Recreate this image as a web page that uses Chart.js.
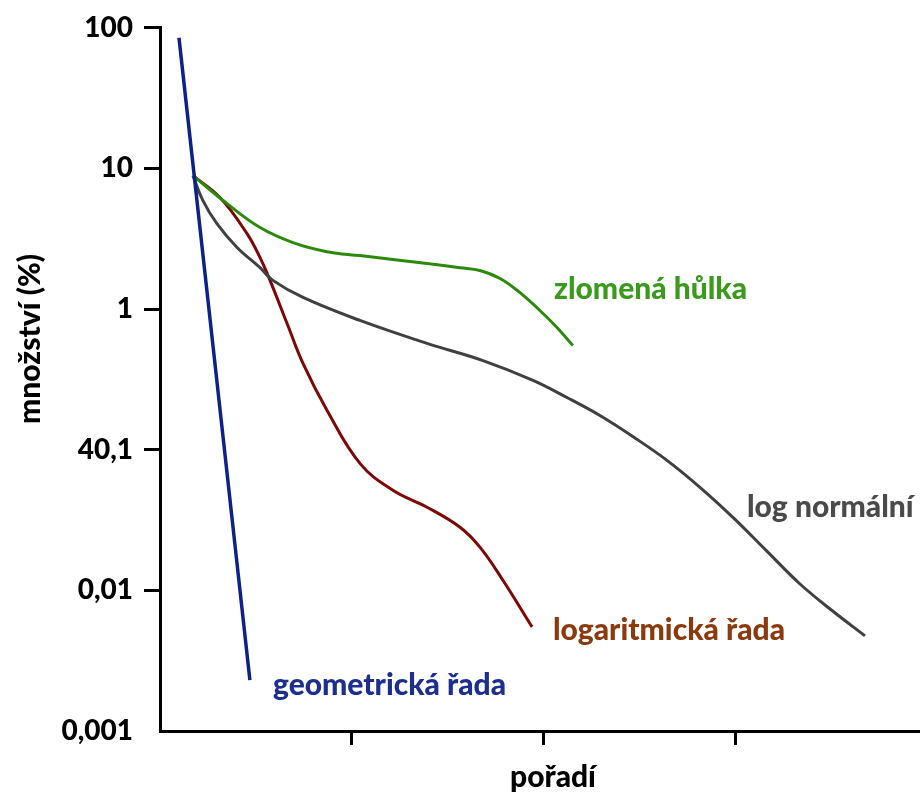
<!DOCTYPE html>
<html>
<head>
<meta charset="utf-8">
<script src="https://cdn.jsdelivr.net/npm/chart.js@4/dist/chart.umd.min.js"></script>
<style>
  html, body { margin: 0; padding: 0; background: #fff; }
  #wrap { width: 920px; height: 798px; position: relative; }
</style>
</head>
<body>
<div id="wrap"><canvas id="c" width="920" height="798"></canvas></div>
<script>
// ---- data ----
const geomX = [0.099, 0.469];
const geomY = [85, 0.0023];

const zlomX = [0.172, 0.350, 0.522, 0.694, 0.871, 1.043, 1.215, 1.393, 1.565, 1.669, 1.774, 1.878, 1.982, 2.071, 2.154];
const zlomY = [8.89, 5.62, 3.80, 2.97, 2.56, 2.40, 2.25, 2.11, 1.97, 1.88, 1.65, 1.31, 0.977, 0.74, 0.55];

const lognX = [0.172, 0.224, 0.297, 0.402, 0.522, 0.589, 0.746, 1.043, 1.393, 1.685, 1.946, 2.123, 2.295, 2.467, 2.645, 2.817, 2.989, 3.166, 3.339, 3.511, 3.678];
const lognY = [8.89, 5.90, 4.05, 2.74, 1.97, 1.60, 1.21, 0.83, 0.57, 0.43, 0.311, 0.235, 0.175, 0.124, 0.084, 0.054, 0.033, 0.0190, 0.0111, 0.0071, 0.00475];

const logarX = [0.172, 0.313, 0.454, 0.522, 0.574, 0.663, 0.746, 0.871, 1.043, 1.215, 1.393, 1.565, 1.669, 1.789, 1.941];
const logarY = [8.89, 6.21, 3.44, 2.32, 1.60, 0.79, 0.411, 0.191, 0.080, 0.0515, 0.039, 0.0281, 0.0203, 0.0118, 0.0055];

const seriesNames = ['geometrická řada', 'zlomená hůlka', 'log normální', 'logaritmická řada'];

const yTickValues = [0.001, 0.01, 0.1, 1, 10, 100];
const yTickLabels = ['0,001', '0,01', '40,1', '1', '10', '100'];
const xTickValues = [1, 2, 3];

const yTitle = 'množství (%)';
const xTitle = 'pořadí';

// ---- helpers ----
const pts = (xs, ys) => xs.map((x, i) => ({ x: x, y: ys[i] }));
const FONT = 'Lato, "Open Sans", sans-serif';

const seriesStyle = [
  { line: '#0c2189', text: '#1d2e8e', lx: 273, ly: 695, w: 3.5 },
  { line: '#2b8a0c', text: '#3a9a1c', lx: 554, ly: 299, w: 3 },
  { line: '#404040', text: '#4a4a4a', lx: 747, ly: 517, w: 3 },
  { line: '#7d0707', text: '#8a3a0c', lx: 553, ly: 640, w: 3 }
];

const labelPlugin = {
  id: 'labels',
  afterDatasetsDraw(chart) {
    const ctx = chart.ctx;
    ctx.save();
    ctx.font = '900 30px ' + FONT;
    ctx.textBaseline = 'alphabetic';
    ctx.textAlign = 'left';
    seriesNames.forEach((n, i) => {
      ctx.fillStyle = seriesStyle[i].text;
      ctx.fillText(n, seriesStyle[i].lx, seriesStyle[i].ly);
    });
    // axis titles
    ctx.fillStyle = '#000';
    ctx.font = '900 30px ' + FONT;
    ctx.textAlign = 'center';
    ctx.fillText(xTitle, 553, 787);
    ctx.translate(40, 339);
    ctx.rotate(-Math.PI / 2);
    ctx.fillText(yTitle, 0, 0);
    ctx.restore();
  }
};

const datasets = [
  pts(geomX, geomY), pts(zlomX, zlomY), pts(lognX, lognY), pts(logarX, logarY)
].map((d, i) => ({
  label: seriesNames[i],
  data: d,
  borderColor: seriesStyle[i].line,
  backgroundColor: seriesStyle[i].line,
  borderWidth: seriesStyle[i].w,
  pointRadius: 0,
  fill: false,
  tension: 0.4
}));

new Chart(document.getElementById('c'), {
  type: 'line',
  data: { datasets: datasets },
  plugins: [labelPlugin],
  options: {
    responsive: false,
    animation: false,
    layout: { padding: { top: 27, right: 0, left: 0, bottom: 0 } },
    plugins: { legend: { display: false }, tooltip: { enabled: false } },
    scales: {
      x: {
        type: 'linear',
        min: 0,
        max: 3.965,
        afterBuildTicks: s => { s.ticks = xTickValues.map(v => ({ value: v })); },
        afterFit: s => { s.height = 67; },
        ticks: { callback: () => '', padding: 0 },
        border: { color: '#000', width: 3 },
        grid: { drawOnChartArea: false, drawTicks: true, tickLength: 14, tickWidth: 3, tickColor: '#000' }
      },
      y: {
        type: 'logarithmic',
        min: 0.001,
        max: 100,
        afterBuildTicks: s => { s.ticks = yTickValues.map(v => ({ value: v })); },
        afterFit: s => { s.width = 160; },
        ticks: {
          callback: v => { const k = yTickValues.indexOf(v); return k >= 0 ? yTickLabels[k] : ''; },
          font: { family: FONT, size: 28, weight: '900' },
          color: '#000',
          padding: 11,
          autoSkip: false
        },
        border: { color: '#000', width: 3 },
        grid: {
          drawOnChartArea: false, drawTicks: true, tickLength: 16, tickWidth: 3,
          tickColor: c => (c.tick && c.tick.value === 0.001) ? 'rgba(0,0,0,0)' : '#000'
        }
      }
    }
  }
});
</script>
</body>
</html>
